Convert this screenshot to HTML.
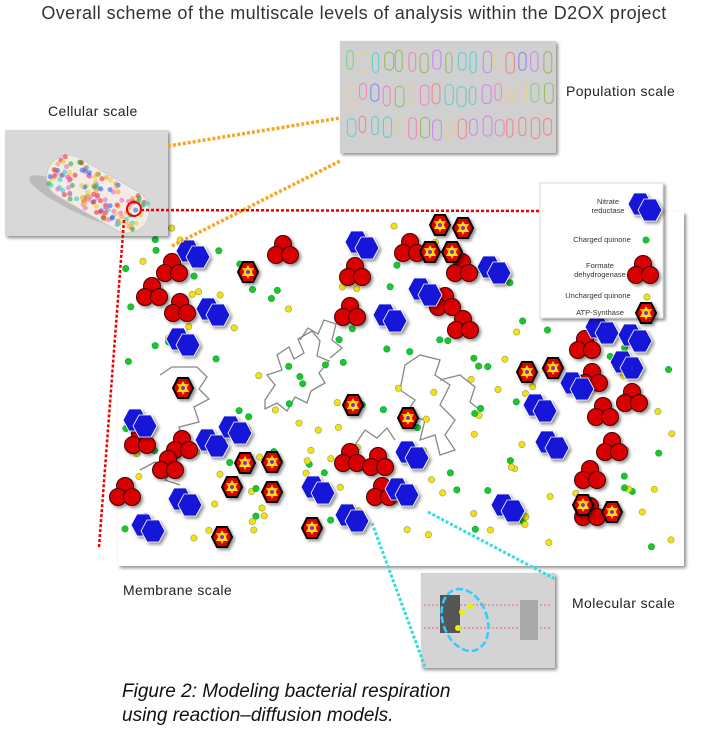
<!DOCTYPE html>
<html><head><meta charset="utf-8"><style>
body{margin:0;background:#fff;width:708px;height:732px;overflow:hidden;position:relative;font-family:"Liberation Sans",sans-serif}
.t{position:absolute;color:#222;font-size:15px}
</style></head><body>
<svg id="s" width="708" height="732" style="position:absolute;left:0;top:0" xmlns="http://www.w3.org/2000/svg">
<defs>
<filter id="sh" x="-20%" y="-20%" width="150%" height="150%"><feDropShadow dx="2" dy="2" stdDeviation="1.5" flood-color="#000" flood-opacity="0.45"/></filter>
<g id="hex"><polygon points="-6,-11 6,-11 12,0 6,11 -6,11 -12,0" fill="#1414d8" stroke="#fff" stroke-width="0.8"/></g>
<g id="bp" filter="url(#sh)"><use href="#hex" x="-5" y="-3"/><use href="#hex" x="5" y="3"/></g>
<g id="rc" filter="url(#sh)"><circle cx="0" cy="-6" r="8.5" fill="#d80000" stroke="#400" stroke-width="1"/><circle cx="-7" cy="5" r="8.5" fill="#d80000" stroke="#400" stroke-width="1"/><circle cx="7" cy="5" r="8.5" fill="#d80000" stroke="#400" stroke-width="1"/></g>
<g id="atp" filter="url(#sh)"><polygon points="-5,-10 5,-10 10,0 5,10 -5,10 -10,0" fill="#e00000" stroke="#000" stroke-width="2"/><polygon points="0,-7 6,4 -6,4" fill="#ffe400"/><polygon points="0,7 6,-4 -6,-4" fill="#ffe400" opacity="0.8"/><circle r="2" fill="#8a2be2"/></g>
<g id="gd"><circle r="3.2" fill="#22c422" stroke="#0a5" stroke-width="0.6"/></g>
<g id="yd"><circle r="3.2" fill="#f5e400" stroke="#997" stroke-width="0.6"/></g>
</defs>
<rect x="118" y="212" width="566" height="354" fill="#fff" filter="url(#sh)"/>
<g id="sq" fill="none" stroke="#888" stroke-width="1.3">
<path d="M265,400 l10,-15 l-8,-10 l15,-5 l-5,-15 l12,-8 l5,12 l10,-6 l-6,-14 l14,-8 l8,10 l-3,15 l12,5 l-10,12 l6,10 l-14,8 l-4,12 l-12,-6 l-8,14 l-10,-8 l-12,6 z"/>
<path d="M300,340 l8,-12 l10,6 l6,-14 l12,4 l-4,16 l10,8 l-12,10"/>
<path d="M405,365 l15,-10 l20,5 l-5,15 l15,10 l-10,20 l15,15 l-10,15 l10,15 l-15,5 l-5,-20 l-15,5 l5,-20 l-20,-5 l10,-15 l-15,-10 z"/>
<path d="M440,380 l20,-5 l15,12 l-5,15 l10,8"/>
<path d="M160,375 l12,-8 l25,0 l10,10 l-8,12 l10,10 l-15,8 l5,15 l-20,5 l5,15 l-15,5"/>
<path d="M140,470 l15,-8 l20,6 l-10,12 l15,5"/>
<path d="M355,445 l10,-15 l12,8 l10,-10 l8,12"/>
</g>
<g id="items"></g>
<rect x="540" y="183" width="123" height="135" fill="#fff" stroke="#ddd" filter="url(#sh)"/>
<g font-family="Liberation Sans" font-size="7.5" fill="#333" text-anchor="middle">
<text x="608" y="204">Nitrate</text><text x="608" y="213">reductase</text>
<text x="602" y="242">Charged quinone</text>
<text x="600" y="268">Formate</text><text x="600" y="277">dehydrogenase</text>
<text x="598" y="298">Uncharged quinone</text>
<text x="600" y="315">ATP-Synthase</text>
</g>
<rect x="5" y="130" width="163" height="106" fill="#d8d8d8" filter="url(#sh)"/>
<ellipse cx="82" cy="202" rx="58" ry="12" fill="#bbb" transform="rotate(25 82 202)"/>
<rect x="42" y="172" width="112" height="44" rx="22" fill="#f2ece6" stroke="#ccc" transform="rotate(30 98 194)"/>
<g id="cell"></g>
<circle cx="134" cy="209" r="7" fill="none" stroke="#e00" stroke-width="2"/>
<rect x="340" y="41" width="216" height="112" fill="#d0d0d0" filter="url(#sh)"/>
<g id="pop" fill="none" stroke-width="1.1"></g>
<rect x="421" y="573" width="134" height="95" fill="#d4d4d4" filter="url(#sh)"/>
<line x1="424" y1="605" x2="552" y2="605" stroke="#e66" stroke-dasharray="2,2"/>
<line x1="424" y1="628" x2="552" y2="628" stroke="#e66" stroke-dasharray="2,2"/>
<rect x="440" y="595" width="20" height="38" fill="#555"/>
<rect x="520" y="600" width="18" height="40" fill="#aaa"/>
<ellipse cx="465" cy="620" rx="22" ry="32" fill="none" stroke="#3cf" stroke-width="2.5" stroke-dasharray="7,3" transform="rotate(-20 465 620)"/>
<circle cx="462" cy="612" r="3" fill="#ee0"/><circle cx="470" cy="606" r="3" fill="#ee0"/><circle cx="458" cy="628" r="3" fill="#ee0"/>
<g fill="none" stroke-width="3.5" stroke-dasharray="3,2">
<line x1="168" y1="146" x2="340" y2="118" stroke="#f5a623"/>
<line x1="172" y1="246" x2="340" y2="161" stroke="#f5a623"/>
<line x1="141" y1="210" x2="540" y2="211" stroke="#e00" stroke-width="2.5"/>
<line x1="124" y1="220" x2="99" y2="547" stroke="#e00" stroke-width="2.5"/>
<line x1="372" y1="523" x2="425" y2="667" stroke="#3dd" stroke-width="3"/>
<line x1="428" y1="512" x2="555" y2="579" stroke="#3dd" stroke-width="3"/>
</g>
<use href="#bp" x="645" y="207"/><use href="#gd" x="646" y="240"/><use href="#rc" x="643" y="270"/><use href="#yd" x="647" y="297"/><use href="#atp" x="646" y="313"/>
</svg>
<div class="t" style="left:0;top:3px;width:708px;text-align:center;font-size:18px;letter-spacing:0.4px;color:#333">Overall scheme of the multiscale levels of analysis within the D2OX project</div>
<div class="t" style="left:48px;top:103px;font-size:14px;letter-spacing:0.4px">Cellular scale</div>
<div class="t" style="left:566px;top:83px;font-size:14px;letter-spacing:0.4px">Population scale</div>
<div class="t" style="left:123px;top:582px;font-size:14px;letter-spacing:0.4px">Membrane scale</div>
<div class="t" style="left:572px;top:595px;font-size:14px;letter-spacing:0.4px">Molecular scale</div>
<div class="t" style="left:122px;top:680px;font-size:19px;font-style:italic;color:#111;line-height:24px">Figure 2: Modeling bacterial respiration<br>using reaction–diffusion models.</div>
<script>
var NS="http://www.w3.org/2000/svg";
var seed=7;function r(){seed=(seed*16807)%2147483647;return (seed-1)/2147483646;}
var it=document.getElementById("items");
function u(id,x,y){var e=document.createElementNS(NS,"use");e.setAttribute("href","#"+id);e.setAttribute("x",x);e.setAttribute("y",y);it.appendChild(e);}
for(var i=0;i<180;i++){var x=125+r()*550,y=225+r()*330;if(x>535&&y<325)continue;u(r()<0.5?"gd":"yd",x,y);}
[[172,268],[180,308],[283,250],[152,292],[355,272],[350,312],[410,248],[462,268],[445,302],[463,325],[140,440],[182,445],[125,492],[168,465],[350,458],[378,462],[382,492],[585,345],[592,378],[603,412],[612,447],[632,398],[590,475],[590,512]].forEach(function(p){u("rc",p[0],p[1]);});
[[193,254],[362,245],[425,292],[390,318],[494,270],[213,312],[183,342],[140,423],[212,443],[148,528],[185,502],[318,490],[352,518],[402,492],[412,455],[508,508],[540,408],[577,386],[602,330],[627,365],[635,338],[552,445],[235,430]].forEach(function(p){u("bp",p[0],p[1]);});
[[248,272],[440,225],[463,228],[430,252],[452,252],[183,388],[353,405],[408,418],[245,463],[272,462],[232,487],[272,492],[222,537],[312,528],[527,372],[553,368],[583,505],[612,512]].forEach(function(p){u("atp",p[0],p[1]);});
var pop=document.getElementById("pop");var cols=["#e88","#8c8","#88e","#ec8","#c8e","#6cc","#e8b","#9b6"];
for(var rw=0;rw<3;rw++)for(var c=0;c<17;c++){var e=document.createElementNS(NS,"rect");e.setAttribute("x",346+c*12.3+r()*2);e.setAttribute("y",50+rw*33+r()*4);e.setAttribute("width",6+r()*3);e.setAttribute("height",16+r()*6);e.setAttribute("rx",4);e.setAttribute("stroke",cols[Math.floor(r()*8)]);pop.appendChild(e);}
var cell=document.getElementById("cell");var cc=["#e33","#3a3","#36e","#ec3","#e6c","#3cc","#f93"];
var ca=Math.cos(30*Math.PI/180),sa=Math.sin(30*Math.PI/180);
for(var i=0;i<140;i++){var a=(r()-0.5)*100,b=(r()-0.5)*38;var x=98+a*ca-b*sa,y=194+a*sa+b*ca;var e=document.createElementNS(NS,"circle");e.setAttribute("cx",x);e.setAttribute("cy",y);e.setAttribute("r",2.5);e.setAttribute("fill",cc[Math.floor(r()*7)]);e.setAttribute("opacity",0.6);cell.appendChild(e);}
</script>
</body></html>
